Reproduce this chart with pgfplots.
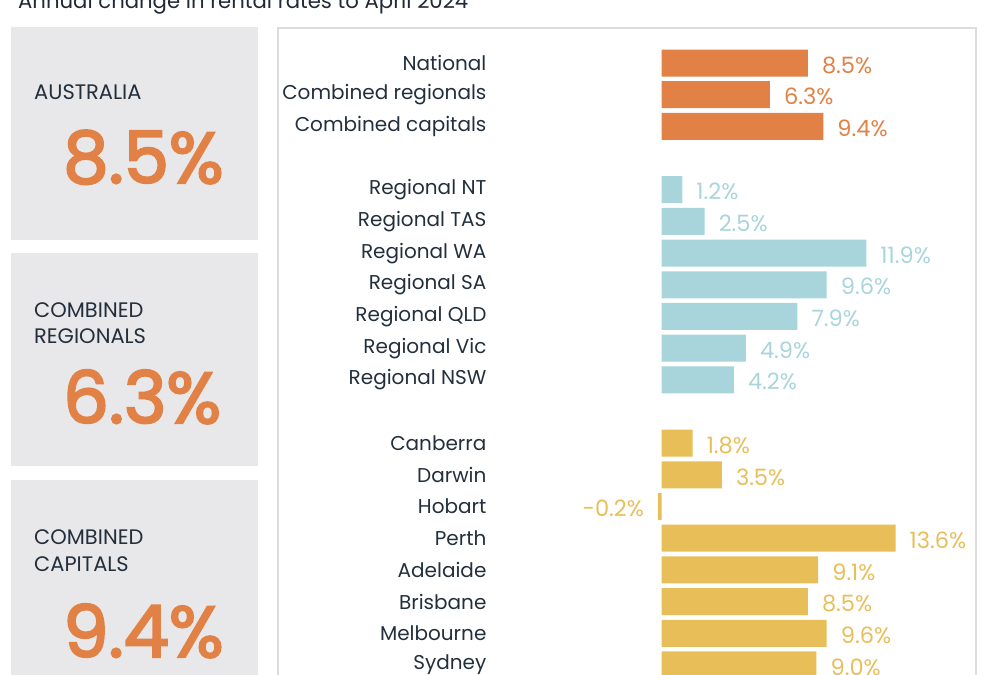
\documentclass[border=0pt]{standalone}
\usepackage{fontspec}
\setmainfont{Poppins}
\usepackage{pgfplots}
\pgfplotsset{compat=1.18}

\definecolor{barorange}{HTML}{E18145}
\definecolor{barblue}{HTML}{A8D5DC}
\definecolor{baryellow}{HTML}{E8BE58}
\definecolor{boxgray}{HTML}{E8E8EA}
\definecolor{framegray}{HTML}{DCDCDC}
\definecolor{darktext}{HTML}{232F3C}

\begin{document}
\begin{tikzpicture}[x=1bp,y=1bp]
\useasboundingbox (0,0) rectangle (984,-675);
\begin{scope}
\clip (0,0) rectangle (984,-675);

% title (cut by the top edge)
\node[anchor=base west, inner sep=0pt, text=darktext!90!black,
      font=\fontsize{21.2bp}{24bp}\selectfont] at (18,-9)
      {Annual change in rental rates to April 2024};

% summary panels
\fill[boxgray] (11,-27) rectangle (258,-240);
\fill[boxgray] (11,-253) rectangle (258,-466);
\fill[boxgray] (11,-480) rectangle (258,-720);

\begin{scope}[every node/.style={anchor=base west, inner sep=0pt, text=darktext,
      font=\fontsize{21bp}{24bp}\selectfont}]
\node at (34,-100) {AUSTRALIA};
\node at (34,-317) {COMBINED};
\node at (34,-343) {REGIONALS};
\node at (34,-544) {COMBINED};
\node at (34,-571) {CAPITALS};
\end{scope}
\begin{scope}[every node/.style={anchor=base west, inner sep=0pt, text=barorange,
      font=\fontsize{72bp}{80bp}\selectfont\addfontfeature{FakeBold=3}}]
\node at (63,-183) {8.5\%};
\node at (63,-423) {6.3\%};
\node at (63,-657) {9.4\%};
\end{scope}

% frame round the chart
\draw[framegray, line width=2bp] (278,-28) rectangle (976,-720);

\begin{axis}[
    at={(489.6bp,-31.32bp)}, anchor=north west,
    scale only axis,
    width=481.6bp, height=665.3bp,
    xmin=-10, xmax=18,
    ymin=-1, ymax=20,
    y dir=reverse,
    xbar, bar width=27bp, bar shift=0pt,
    axis line style={draw=none},
    major tick length=0pt,
    xtick=\empty,
    ytick={0,1,2,4,5,6,7,8,9,10,12,13,14,15,16,17,18,19},
    yticklabels={National, Combined regionals, Combined capitals,
        Regional NT, Regional TAS, Regional WA, Regional SA, Regional QLD,
        Regional Vic, Regional NSW,
        Canberra, Darwin, Hobart, Perth, Adelaide, Brisbane, Melbourne, Sydney},
    yticklabel style={font=\fontsize{20bp}{22bp}\selectfont, text=darktext,
        inner sep=0pt, xshift=-3bp},
    point meta=x,
    nodes near coords={\pgfmathprintnumber[fixed, fixed zerofill, precision=1,
        assume math mode=true]{\pgfplotspointmeta}\%},
    nodes near coords style={font=\fontsize{22.5bp}{24bp}\selectfont,
        inner sep=0pt, inner xsep=14bp, yshift=-2bp},
    clip=false,
]
\addplot[fill=barorange, draw=none,
    every node near coord/.append style={text=barorange}]
    coordinates {(8.5,0) (6.3,1) (9.4,2)};
\addplot[fill=barblue, draw=none,
    every node near coord/.append style={text=barblue}]
    coordinates {(1.2,4) (2.5,5) (11.9,6) (9.6,7) (7.9,8) (4.9,9) (4.2,10)};
\addplot[fill=baryellow, draw=none,
    every node near coord/.append style={text=baryellow}]
    coordinates {(1.8,12) (3.5,13) (-0.2,14) (13.6,15) (9.1,16) (8.5,17)
                 (9.6,18) (9.0,19)};
\end{axis}
\end{scope}
\end{tikzpicture}
\end{document}
